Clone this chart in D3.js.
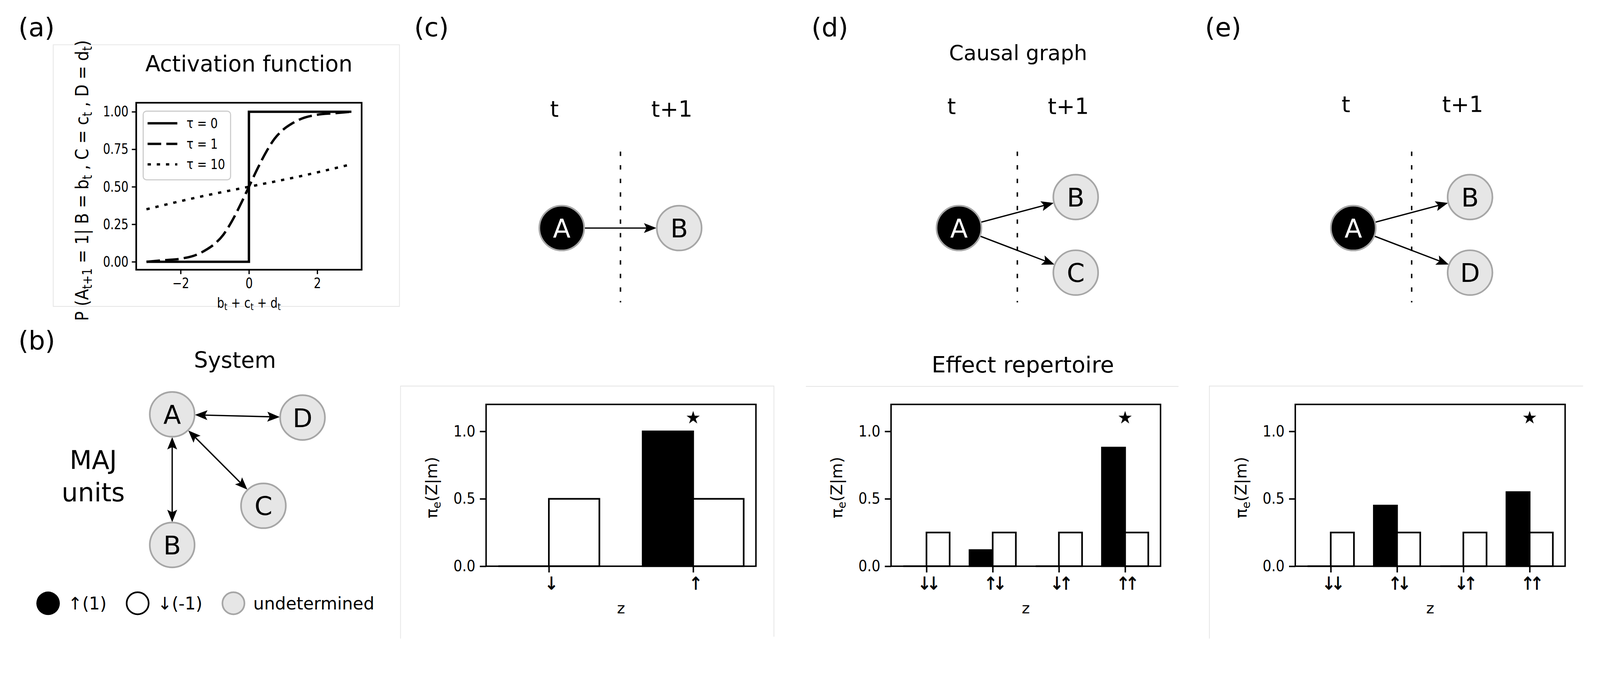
<!DOCTYPE html>
<html><head><meta charset="utf-8">
<script src="https://cdn.jsdelivr.net/npm/d3@7"></script>
<style>
html,body{margin:0;padding:0;background:#fff;overflow:hidden;width:100%;height:100%}
svg{display:block;width:100vw;height:100vh;font-family:"DejaVu Sans",sans-serif}
</style>
</head><body>
<svg id="fig" viewBox="0 0 4358 1757" preserveAspectRatio="xMidYMin meet"></svg>
<script>
// ---------------- DATA ----------------
// (a) activation function
const actX   = [-3, -2.5, -2, -1.5, -1.25, -1, -0.75, -0.5, -0.25, 0, 0.25, 0.5, 0.75, 1, 1.25, 1.5, 2, 2.5, 3];
const tau1Y  = [0.00, 0.01, 0.02, 0.05, 0.08, 0.12, 0.18, 0.27, 0.38, 0.50, 0.62, 0.73, 0.82, 0.88, 0.92, 0.95, 0.98, 0.99, 1.00];
const tau0X  = [-3, 0, 0, 3];
const tau0Y  = [0, 0, 1, 1];
const tau10X = [-3, -1.5, 0, 1.5, 3];
const tau10Y = [0.35, 0.43, 0.50, 0.57, 0.65];
const actLegend = ["τ = 0", "τ = 1", "τ = 10"];
const actYTicks = [0, 0.25, 0.5, 0.75, 1];
const actXTicks = [-2, 0, 2];

// (b) system graph
const sysNodes = [
  {id: "A", x: 0,    y: 0},
  {id: "D", x: 1,    y: 0.025},
  {id: "C", x: 0.70, y: 0.70},
  {id: "B", x: 0,    y: 1}
];
const sysEdges = [["A", "D"], ["A", "C"], ["A", "B"]];
const stateLegend = ["↑(1)", "↓(-1)", "undetermined"];

// (c)-(e) causal graphs (col 0 = t, col 1 = t+1)
const graphC = [{id: "A", col: 0, row: -0.18, on: true}, {id: "B", col: 1, row: -0.18}];
const graphD = [{id: "A", col: 0, row: -0.18, on: true}, {id: "B", col: 1, row: -1}, {id: "C", col: 1, row: 1}];
const graphE = [{id: "A", col: 0, row: -0.18, on: true}, {id: "B", col: 1, row: -1}, {id: "D", col: 1, row: 1}];

// effect repertoires
const zC = ["↓", "↑"];
const blackC = [0, 1.0];
const whiteC = [0.5, 0.5];
const zDE = ["↓↓", "↑↓", "↓↑", "↑↑"];
const blackD = [0, 0.12, 0, 0.88];
const whiteD = [0.25, 0.25, 0.25, 0.25];
const blackE = [0, 0.45, 0, 0.55];
const whiteE = [0.25, 0.25, 0.25, 0.25];
const starC = 1, starD = 3, starE = 3;
const starLevel = 1.1;
const barYTicks = [0, 0.5, 1.0];

// ---------------- HELPERS ----------------
const svg = d3.select("#fig");

function txt(g, x, y, s, size, o = {}) {
  const t = g.append("text").attr("x", x).attr("y", y)
    .attr("font-size", size).attr("text-anchor", o.anchor || "start")
    .attr("fill", o.fill || "#000");
  if (o.family) t.attr("font-family", o.family);
  t.text(s);
  if (o.sx) t.attr("transform", `translate(${x},${y}) scale(${o.sx},1) translate(${-x},${-y})`);
  return t;
}
function squeezeTicks(sel, sx) {
  sel.selectAll(".tick text").each(function () {
    const t = d3.select(this);
    const x = +t.attr("x") || 0, y = +t.attr("y") || 0;
    t.attr("transform", `translate(${x},${y}) scale(${sx},1) translate(${-x},${-y})`);
  });
}
function arrowPath(x1, y1, x2, y2, r1, r2, both) {
  const dx = x2 - x1, dy = y2 - y1, len = Math.hypot(dx, dy);
  const ux = dx / len, uy = dy / len, nx = -uy, ny = ux;
  const L = 34, W = 27;
  const sx = x1 + ux * r1, sy = y1 + uy * r1, ex = x2 - ux * r2, ey = y2 - uy * r2;
  const head = (tx, ty, vx, vy) => {
    const bx = tx - vx * L, by = ty - vy * L;
    return `M${tx},${ty}L${bx + nx * W / 2},${by + ny * W / 2}L${tx - vx * L * 0.8},${ty - vy * L * 0.8}L${bx - nx * W / 2},${by - ny * W / 2}Z`;
  };
  const ls = both ? [sx + ux * L * 0.7, sy + uy * L * 0.7] : [sx, sy];
  const le = [ex - ux * L * 0.7, ey - uy * L * 0.7];
  return {
    line: `M${ls[0]},${ls[1]}L${le[0]},${le[1]}`,
    heads: head(ex, ey, ux, uy) + (both ? head(sx, sy, -ux, -uy) : "")
  };
}
const NODE_R = 61, NODE_FONT = 70;
function drawNode(g, cx, cy, label, on) {
  g.append("circle").attr("cx", cx).attr("cy", cy).attr("r", NODE_R)
    .attr("fill", on ? "#000" : "#e6e6e6").attr("stroke", "#a6a6a6").attr("stroke-width", 4.5);
  txt(g, cx, cy + NODE_FONT * 0.365, label, NODE_FONT, {anchor: "middle", fill: on ? "#fff" : "#000"});
}
function drawArrow(g, a, b, both) {
  const p = arrowPath(a[0], a[1], b[0], b[1], NODE_R + 1, NODE_R + 1, both);
  g.append("path").attr("d", p.line).attr("stroke", "#000").attr("stroke-width", 3.6).attr("fill", "none");
  g.append("path").attr("d", p.heads).attr("fill", "#000");
}

// ---------------- FAINT SUB-FIGURE FRAMES ----------------
const fr = svg.append("g").attr("stroke", "#e4e4e4").attr("stroke-width", 2).attr("fill", "none");
fr.append("path").attr("d", "M145,122H1088V835H145Z");
fr.append("path").attr("d", "M1091,1740V1052H2108V1735");
fr.append("path").attr("d", "M2195,1053H3210");
fr.append("path").attr("d", "M3294,1740V1052H4312");

// ---------------- PANEL LABELS ----------------
const lab = svg.append("g");
[["(a)", 50, 99], ["(b)", 50, 952], ["(c)", 1128, 99], ["(d)", 2210, 99], ["(e)", 3282, 99]]
  .forEach(d => txt(lab, d[1], d[2], d[0], 71));

// ---------------- (a) ACTIVATION FUNCTION ----------------
(function () {
  const g = svg.append("g");
  const L = 371, R = 985, T = 280, B = 735;
  const x = d3.scaleLinear().domain([-3.3, 3.3]).range([L, R]);
  const y = d3.scaleLinear().domain([-0.053, 1.06]).range([B, T]);
  txt(g, (L + R) / 2, 195, "Activation function", 60, {anchor: "middle"});

  const line = d3.line().x(d => x(d[0])).y(d => y(d[1]));
  const smooth = d3.line().x(d => x(d[0])).y(d => y(d[1])).curve(d3.curveMonotoneX);
  const series = [
    {pts: d3.zip(tau0X, tau0Y), gen: line, dash: null},
    {pts: d3.zip(actX, tau1Y), gen: smooth, dash: "37,14"},
    {pts: d3.zip(tau10X, tau10Y), gen: smooth, dash: "9,16"}
  ];
  g.selectAll("path.s").data(series).join("path").attr("class", "s")
    .attr("d", d => d.gen(d.pts)).attr("fill", "none").attr("stroke", "#000")
    .attr("stroke-width", 6.5).attr("stroke-dasharray", d => d.dash);

  const ya = g.append("g").attr("transform", `translate(${L},0)`)
    .call(d3.axisLeft(y).tickValues(actYTicks).tickFormat(d3.format(".2f")).tickSize(12).tickPadding(9));
  const xa = g.append("g").attr("transform", `translate(0,${B})`)
    .call(d3.axisBottom(x).tickValues(actXTicks).tickFormat(d3.format("d")).tickSize(12).tickPadding(11));
  [ya, xa].forEach(a => {
    a.select(".domain").remove();
    a.selectAll(".tick line").attr("stroke-width", 3.5);
    a.selectAll(".tick text").attr("font-size", 39).attr("font-family", "DejaVu Sans");
    squeezeTicks(a, 0.8);
  });
  g.append("rect").attr("x", L).attr("y", T).attr("width", R - L).attr("height", B - T)
    .attr("fill", "none").attr("stroke", "#000").attr("stroke-width", 4.5);

  // legend
  const lg = g.append("g");
  lg.append("rect").attr("x", 390).attr("y", 303).attr("width", 238).attr("height", 187).attr("rx", 9)
    .attr("fill", "#fff").attr("fill-opacity", 0.8).attr("stroke", "#cccccc").attr("stroke-width", 3);
  actLegend.forEach((s, i) => {
    const yy = 336 + i * 56;
    lg.append("path").attr("d", `M402,${yy}H483`).attr("stroke", "#000").attr("stroke-width", 6.5)
      .attr("stroke-dasharray", series[i].dash);
    txt(lg, 508, yy + 13, s, 37, {sx: 0.85});
  });

  // x label b_t + c_t + d_t
  const xl = g.append("text").attr("x", (L + R) / 2).attr("y", 838).attr("font-size", 37).attr("text-anchor", "middle");
  [["b", 0], ["t", 1], [" + c", 0], ["t", 1], [" + d", 0], ["t", 1]].forEach(p => {
    const ts = xl.append("tspan").text(p[0]);
    if (p[1]) ts.attr("font-size", 26).attr("baseline-shift", "-0.25em");
  });
  const cxl = (L + R) / 2;
  xl.attr("transform", `translate(${cxl},838) scale(0.84,1) translate(${-cxl},-838)`);

  // y label
  const yg = g.append("g").attr("transform", "translate(240,492) rotate(-90)");
  const yl = yg.append("text").attr("x", 0).attr("y", 0).attr("font-size", 50).attr("text-anchor", "middle");
  [["P (A", 0], ["t+1", 1], [" = 1| B = b", 0], ["t", 1], [" , C = c", 0], ["t", 1], [" , D = d", 0], ["t", 1], [")", 0]]
    .forEach(p => {
      const ts = yl.append("tspan").text(p[0]);
      if (p[1]) ts.attr("font-size", 35).attr("baseline-shift", "-0.3em");
    });
  const w = yl.node().getBBox().width;
  yl.attr("transform", `scale(${765 / w},1)`);
})();

// ---------------- (b) SYSTEM ----------------
(function () {
  const g = svg.append("g");
  const x = d3.scaleLinear().domain([0, 1]).range([469, 824]);
  const y = d3.scaleLinear().domain([0, 1]).range([1129, 1485]);
  txt(g, 640, 1002, "System", 60, {anchor: "middle"});
  txt(g, 254, 1278, "MAJ", 70, {anchor: "middle"});
  txt(g, 254, 1366, "units", 70, {anchor: "middle"});
  const pos = {};
  sysNodes.forEach(n => pos[n.id] = [x(n.x), y(n.y)]);
  sysEdges.forEach(e => drawArrow(g, pos[e[0]], pos[e[1]], true));
  sysNodes.forEach(n => drawNode(g, pos[n.id][0], pos[n.id][1], n.id, false));

  // state legend
  const styles = [{fill: "#000", stroke: "#000"}, {fill: "#fff", stroke: "#000"}, {fill: "#e6e6e6", stroke: "#a6a6a6"}];
  let cx = 131;
  const cy = 1644;
  stateLegend.forEach((s, i) => {
    g.append("circle").attr("cx", cx).attr("cy", cy).attr("r", i === 0 ? 32 : 30)
      .attr("fill", styles[i].fill).attr("stroke", styles[i].stroke).attr("stroke-width", i === 0 ? 0 : 4.5);
    const t = txt(g, cx + 54, 1661, s, 47, {sx: 0.995});
    cx = cx + 54 + t.node().getBBox().width + 84;
  });
})();

// ---------------- (c)(d)(e) CAUSAL GRAPHS ----------------
function causal(nodes, x0, x1, tBase) {
  const g = svg.append("g");
  const x = d3.scaleLinear().domain([0, 1]).range([x0, x1]);
  const y = d3.scaleLinear().domain([-1, 1]).range([537, 743]);
  txt(g, x(0) - 20, tBase, "t", 60, {anchor: "middle"});
  txt(g, x(1) - 20, tBase, "t+1", 60, {anchor: "middle"});
  g.append("line").attr("x1", x(0.5)).attr("x2", x(0.5)).attr("y1", 413).attr("y2", 824)
    .attr("stroke", "#000").attr("stroke-width", 4).attr("stroke-dasharray", "12,25");
  const src = nodes.find(n => n.col === 0);
  nodes.filter(n => n.col === 1).forEach(n =>
    drawArrow(g, [x(src.col), y(src.row)], [x(n.col), y(n.row)], false));
  nodes.forEach(n => drawNode(g, x(n.col), y(n.row), n.id, !!n.on));
}
causal(graphC, 1530, 1850, 318);
causal(graphD, 2612, 2930, 311);
causal(graphE, 3686, 4004, 305);
txt(svg, 2773, 164, "Causal graph", 57, {anchor: "middle"});
txt(svg, 2786, 1015, "Effect repertoire", 61, {anchor: "middle"});

// ---------------- BAR CHARTS ----------------
function barChart(L, R, cats, black, white, star) {
  const T = 1102, B = 1543;
  const g = svg.append("g");
  const n = cats.length, w = 0.35, pad = (n - 1 + 2 * w) * 0.05;
  const x = d3.scaleLinear().domain([-w - pad, n - 1 + w + pad]).range([L, R]);
  const y = d3.scaleLinear().domain([0, 1.2]).range([B, T]);
  const bars = [];
  cats.forEach((c, i) => {
    bars.push({x0: i - w, x1: i, v: black[i], fill: "#000"});
    bars.push({x0: i, x1: i + w, v: white[i], fill: "#fff"});
  });
  g.selectAll("path.bar").data(bars).join("path").attr("class", "bar")
    .attr("d", d => `M${x(d.x0)},${y(0)}V${y(d.v)}H${x(d.x1)}V${y(0)}Z`)
    .attr("fill", d => d.fill).attr("stroke", "#000").attr("stroke-width", 4.5).attr("stroke-linejoin", "miter");
  g.append("path").attr("d", d3.symbol(d3.symbolStar, 400)())
    .attr("transform", `translate(${x(star)},${y(starLevel)})`).attr("fill", "#000");

  const ya = g.append("g").attr("transform", `translate(${L},0)`)
    .call(d3.axisLeft(y).tickValues(barYTicks).tickFormat(d3.format(".1f")).tickSize(17).tickPadding(12));
  const xa = g.append("g").attr("transform", `translate(0,${B})`)
    .call(d3.axisBottom(x).tickValues(d3.range(n)).tickFormat(i => cats[i]).tickSize(17).tickPadding(12));
  [ya, xa].forEach(a => {
    a.select(".domain").remove();
    a.selectAll(".tick line").attr("stroke-width", 4);
    a.selectAll(".tick text").attr("font-family", "DejaVu Sans").attr("fill", "#000");
  });
  ya.selectAll(".tick text").attr("font-size", 41);
  squeezeTicks(ya, 0.92);
  xa.selectAll(".tick text").attr("font-size", 48).attr("letter-spacing", "-14px")
    .attr("stroke", "#000").attr("stroke-width", 1);
  squeezeTicks(xa, 0.95);
  g.append("rect").attr("x", L).attr("y", T).attr("width", R - L).attr("height", B - T)
    .attr("fill", "none").attr("stroke", "#000").attr("stroke-width", 4);

  txt(g, (L + R) / 2, 1672, "z", 42, {anchor: "middle"});
  const yg = g.append("g").attr("transform", `translate(${L - 133},${(T + B) / 2 + 6}) rotate(-90)`);
  const yl = yg.append("text").attr("font-size", 44).attr("text-anchor", "middle").attr("fill", "#000");
  yl.append("tspan").text("π");
  yl.append("tspan").attr("font-size", 31).attr("baseline-shift", "-0.3em").text("e");
  yl.append("tspan").text("(Z|m)");
}
barChart(1324, 2059, zC, blackC, whiteC, starC);
barChart(2427, 3161, zDE, blackD, whiteD, starD);
barChart(3528, 4263, zDE, blackE, whiteE, starE);
</script>
</body></html>
